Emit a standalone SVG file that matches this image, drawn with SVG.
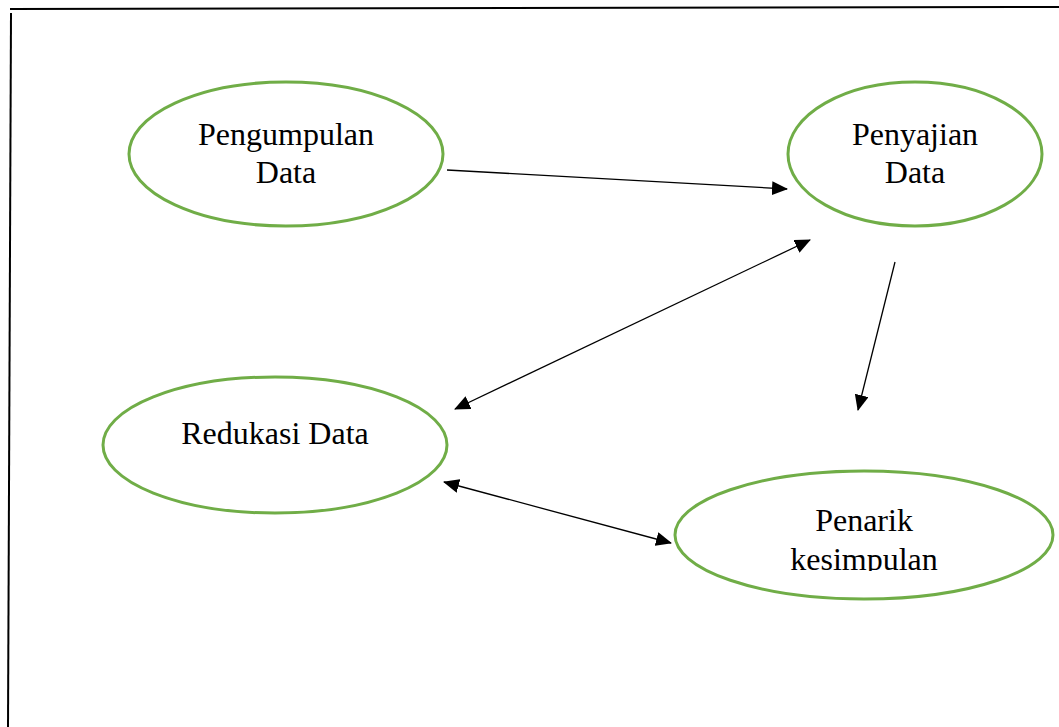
<svg xmlns="http://www.w3.org/2000/svg" width="1059" height="727" viewBox="0 0 1059 727">
<style>
.node{fill:#fff;stroke:#70AD47;stroke-width:3}
.lbl{font-family:"Liberation Serif","Times New Roman",serif;font-size:32px;fill:#000;text-anchor:middle}
.conn{stroke:#000;stroke-width:1.3;fill:none}
.frame{stroke:#000;stroke-width:2;fill:none}
</style>
<defs>
<marker id="ah" viewBox="0 0 16 14" refX="15" refY="7" markerWidth="16" markerHeight="14" markerUnits="userSpaceOnUse" orient="auto-start-reverse">
<path d="M0,0 L16,7 L0,14 z" fill="#000"/>
</marker>
<clipPath id="clipK"><rect x="660" y="470" width="400" height="101"/></clipPath>
</defs>
<rect width="1059" height="727" fill="#fff"/>
<g id="frame">
<line class="frame" x1="10" y1="9" x2="1059" y2="7"/>
<line class="frame" x1="11" y1="13" x2="8" y2="727"/>
</g>
<g id="connectors">
<line class="conn" x1="447" y1="170" x2="787" y2="189" marker-end="url(#ah)"/>
<line class="conn" x1="455" y1="409" x2="810" y2="240" marker-start="url(#ah)" marker-end="url(#ah)"/>
<line class="conn" x1="895" y1="262" x2="858" y2="410" marker-end="url(#ah)"/>
<line class="conn" x1="444" y1="482" x2="671" y2="543" marker-start="url(#ah)" marker-end="url(#ah)"/>
</g>
<g id="pengumpulan">
<ellipse class="node" cx="286" cy="154" rx="157" ry="72"/>
<text class="lbl" x="286" y="145">Pengumpulan</text>
<text class="lbl" x="286" y="183">Data</text>
</g>
<g id="penyajian">
<ellipse class="node" cx="915" cy="154" rx="127" ry="72"/>
<text class="lbl" x="915" y="145">Penyajian</text>
<text class="lbl" x="915" y="183">Data</text>
</g>
<g id="redukasi">
<ellipse class="node" cx="275" cy="445" rx="172" ry="68"/>
<text class="lbl" x="275" y="444">Redukasi Data</text>
</g>
<g id="penarik">
<ellipse class="node" cx="864" cy="535" rx="189" ry="64"/>
<g clip-path="url(#clipK)">
<text class="lbl" x="864" y="531">Penarik</text>
<text class="lbl" x="864" y="570">kesimpulan</text>
</g>
</g>
</svg>
